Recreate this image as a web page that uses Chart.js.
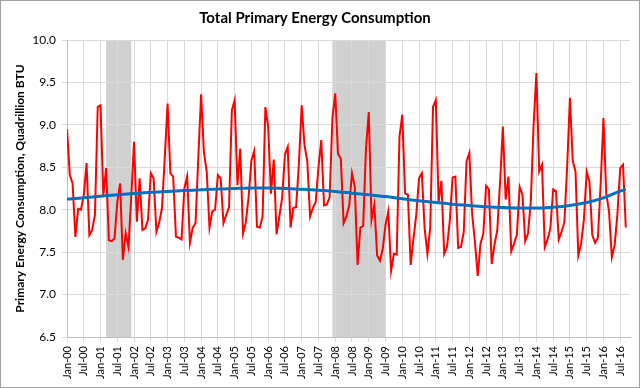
<!DOCTYPE html>
<html>
<head>
<meta charset="utf-8">
<script src="https://cdn.jsdelivr.net/npm/chart.js@4.4.1/dist/chart.umd.min.js"></script>
<style>
  html, body { margin: 0; padding: 0; background: #fff; }
</style>
</head>
<body>
<canvas id="energyChart" width="640" height="388"></canvas>
<script>
// monthly totals, Jan 2000 .. Sep 2016 (quadrillion BTU)
const consumption = [
  8.95, 8.41, 8.31, 7.68, 8.01, 8.00, 8.17, 8.55, 7.70, 7.76, 7.94, 9.21, // 2000
  9.23, 8.17, 8.49, 7.64, 7.63, 7.66, 8.09, 8.31, 7.41, 7.72, 7.56, 8.15, // 2001
  8.80, 7.86, 8.37, 7.76, 7.78, 7.88, 8.43, 8.37, 7.74, 7.85, 8.02, 8.62, // 2002
  9.25, 8.43, 8.39, 7.68, 7.67, 7.65, 8.25, 8.39, 7.61, 7.79, 7.84, 8.62, // 2003
  9.36, 8.68, 8.45, 7.79, 7.98, 8.00, 8.41, 8.37, 7.84, 7.94, 8.03, 9.17, // 2004
  9.29, 8.29, 8.72, 7.72, 7.85, 8.15, 8.58, 8.69, 7.80, 7.79, 7.92, 9.21, // 2005
  8.98, 8.19, 8.59, 7.71, 7.92, 8.14, 8.65, 8.74, 7.79, 8.02, 8.03, 8.54, // 2006
  9.23, 8.76, 8.57, 7.92, 8.02, 8.09, 8.50, 8.82, 8.05, 8.06, 8.15, 9.08, // 2007
  9.37, 8.66, 8.60, 7.84, 7.92, 8.05, 8.43, 8.27, 7.35, 7.79, 7.81, 8.72, // 2008
  9.15, 7.88, 8.06, 7.46, 7.40, 7.54, 7.82, 7.98, 7.28, 7.48, 7.47, 8.86, // 2009
  9.12, 8.19, 8.18, 7.35, 7.66, 7.94, 8.37, 8.43, 7.78, 7.48, 7.79, 9.21, // 2010
  9.29, 8.09, 8.34, 7.48, 7.56, 7.87, 8.38, 8.39, 7.55, 7.56, 7.74, 8.57, // 2011
  8.67, 7.95, 7.62, 7.22, 7.60, 7.72, 8.28, 8.24, 7.36, 7.59, 7.76, 8.33, // 2012
  8.98, 8.12, 8.39, 7.51, 7.60, 7.70, 8.27, 8.18, 7.63, 7.72, 8.10, 9.00, // 2013
  9.61, 8.45, 8.53, 7.56, 7.65, 7.78, 8.24, 8.22, 7.65, 7.74, 7.85, 8.50, // 2014
  9.32, 8.58, 8.45, 7.46, 7.60, 7.88, 8.45, 8.33, 7.70, 7.61, 7.67, 8.30, // 2015
  9.08, 8.19, 7.98, 7.44, 7.58, 7.95, 8.49, 8.53, 7.79                    // 2016
];

// trend line (month index -> value)
const trendMonth = [0, 6, 12, 18, 24, 30, 36, 42, 48, 54, 60, 66, 72, 78, 84, 90, 96, 102,
  108, 114, 120, 126, 132, 138, 144, 150, 156, 162, 168, 174, 180, 186, 192, 198, 200];
const trendValue = [8.125, 8.14, 8.16, 8.175, 8.19, 8.205, 8.215, 8.225, 8.235, 8.245, 8.25, 8.255,
  8.255, 8.25, 8.24, 8.23, 8.215, 8.195, 8.175, 8.155, 8.13, 8.105, 8.085, 8.065, 8.05, 8.035,
  8.025, 8.02, 8.02, 8.03, 8.05, 8.085, 8.14, 8.22, 8.24];

const tickLabels = ['Jan-00', 'Jul-00', 'Jan-01', 'Jul-01', 'Jan-02', 'Jul-02', 'Jan-03', 'Jul-03',
  'Jan-04', 'Jul-04', 'Jan-05', 'Jul-05', 'Jan-06', 'Jul-06', 'Jan-07', 'Jul-07', 'Jan-08', 'Jul-08',
  'Jan-09', 'Jul-09', 'Jan-10', 'Jul-10', 'Jan-11', 'Jul-11', 'Jan-12', 'Jul-12', 'Jan-13', 'Jul-13',
  'Jan-14', 'Jul-14', 'Jan-15', 'Jul-15', 'Jan-16', 'Jul-16'];

// recessions (month index where the grey band starts / ends)
const recessionStart = [14, 95];
const recessionEnd = [23, 114];

const fontName = 'Lato, "Open Sans", sans-serif';

const recessionPlugin = {
    id: 'recessions',
    beforeDraw(chart) {
        const ctx = chart.ctx;
        const area = chart.chartArea;
        const xScale = chart.scales.x;
        ctx.save();
        ctx.fillStyle = '#d0d0d0';
        for (let k = 0; k < recessionStart.length; k++) {
            const x0 = xScale.getPixelForValue(recessionStart[k]);
            const x1 = xScale.getPixelForValue(recessionEnd[k]);
            ctx.fillRect(x0, area.top, x1 - x0, area.bottom - area.top);
        }
        ctx.restore();
    },
    afterDraw(chart) {
        // outer frame of the picture
        const ctx = chart.ctx;
        ctx.save();
        ctx.strokeStyle = '#a0a0a0';
        ctx.lineWidth = 1;
        ctx.strokeRect(0.5, 0.5, chart.width - 1, chart.height - 1);
        ctx.restore();
    }
};

const ctx = document.getElementById('energyChart').getContext('2d');
new Chart(ctx, {
    type: 'line',
    data: {
        datasets: [
            {
                label: 'Trend',
                data: trendMonth.map((m, i) => ({ x: m, y: trendValue[i] })),
                borderColor: '#0070c0',
                borderWidth: 3,
                pointRadius: 0,
                cubicInterpolationMode: 'monotone',
                order: 0
            },
            {
                label: 'Total Primary Energy Consumption',
                data: consumption.map((v, i) => ({ x: i, y: v })),
                borderColor: '#ff0000',
                borderWidth: 2,
                pointRadius: 0,
                tension: 0,
                order: 1
            }
        ]
    },
    options: {
        responsive: false,
        animation: false,
        layout: { padding: { left: 0, right: 10, top: 0, bottom: 0 } },
        plugins: {
            legend: { display: false },
            tooltip: { enabled: false },
            title: {
                display: true,
                text: 'Total Primary Energy Consumption',
                color: '#000',
                font: { family: fontName, size: 15, weight: 'bold' },
                padding: { top: 9, bottom: 13 }
            }
        },
        scales: {
            x: {
                type: 'linear',
                min: 0,
                max: 201.5,
                afterFit: function (scale) { scale.height = 51; },
                grid: { color: '#d9d9d9', tickLength: 5 },
                border: { color: '#bfbfbf' },
                ticks: {
                    stepSize: 6,
                    includeBounds: false,
                    autoSkip: false,
                    maxRotation: 90,
                    minRotation: 90,
                    padding: 4,
                    color: '#000',
                    font: { family: fontName, size: 11 },
                    callback: function (value) {
                        return tickLabels[value / 6];
                    }
                }
            },
            y: {
                min: 6.5,
                max: 10,
                afterFit: function (scale) { scale.width = 67; },
                grid: { color: '#d9d9d9', tickLength: 5 },
                border: { color: '#bfbfbf' },
                ticks: {
                    stepSize: 0.5,
                    padding: 6,
                    color: '#000',
                    font: { family: fontName, size: 12 },
                    callback: function (value) {
                        return value.toFixed(1);
                    }
                },
                title: {
                    display: true,
                    text: 'Primary Energy Consumption, Quadrillion BTU',
                    color: '#000',
                    font: { family: fontName, size: 12, weight: 'bold' },
                    padding: { top: 13, bottom: 0 }
                }
            }
        }
    },
    plugins: [recessionPlugin]
});
</script>
</body>
</html>
